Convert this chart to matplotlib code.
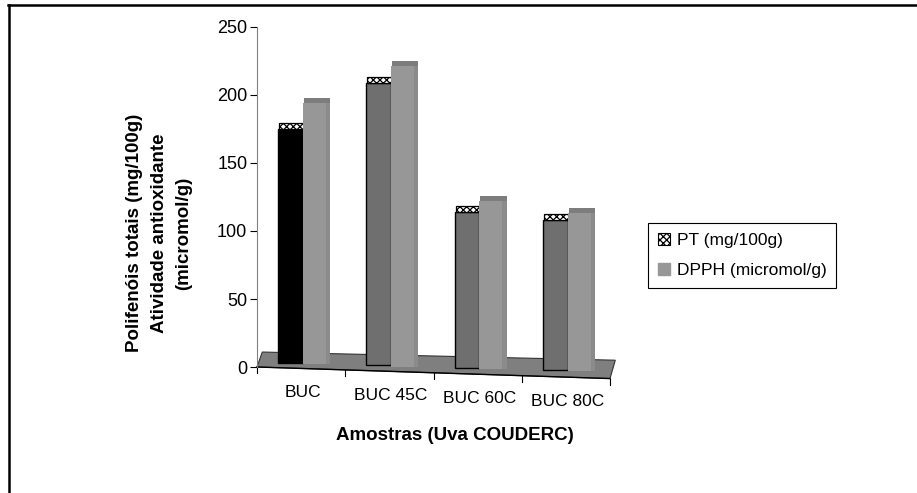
import matplotlib
matplotlib.use("Agg")
import matplotlib.pyplot as plt
from matplotlib.lines import Line2D
from matplotlib.patches import Patch, Polygon
import numpy as np

categories = ["BUC", "BUC 45C", "BUC 60C", "BUC 80C"]
pt_values = [175, 209, 114, 108]
dpph_values = [194, 221, 122, 113]
series_labels = ["PT (mg/100g)", "DPPH (micromol/g)"]
y_ticks = [0, 50, 100, 150, 200, 250]

plt.rcParams["font.family"] = ["Liberation Sans", "DejaVu Sans"]
plt.rcParams["hatch.linewidth"] = 0.9

W, H = 917, 493
fig = plt.figure(figsize=(W / 100, H / 100), dpi=100)
ax = fig.add_axes([257 / W, 126 / H, 353 / W, 340 / H])

n = len(categories)
x = np.arange(n)
x_lo, x_hi = -0.5, n - 0.5

# fake Excel 3D look: the floor and the category axis slope down to the right
front_drop = -8.5


def front_y(xv):
    return front_drop * (xv - x_lo) / n


def base_y(xv):
    return 3.5 - 1.65 * (xv - x_lo)


floor = Polygon([(x_lo, 0), (x_lo + 0.06, 11), (x_hi + 0.06, 5), (x_hi, front_drop)],
                closed=True, facecolor="#7f7f7f", edgecolor="#333333", lw=0.8,
                zorder=1, clip_on=False)
ax.add_patch(floor)

pt_colors = ["#000000"] + ["#6f6f6f"] * (n - 1)
pt_x = x - 0.12
pt_base = base_y(pt_x)
ax.bar(pt_x, np.array(pt_values) - pt_base, 0.28, bottom=pt_base, color=pt_colors,
       edgecolor="black", lw=1, zorder=3, clip_on=False)
ax.bar(pt_x + 0.01, 4.5, 0.28, bottom=pt_values, facecolor="white", edgecolor="black",
       hatch="xxxxx", lw=0.9, zorder=3)

dp_x = x + 0.15
dp_base = base_y(dp_x) - 0.5
ax.bar(dp_x, np.array(dpph_values) - dp_base, 0.26, bottom=dp_base, color="#979797",
       lw=0, zorder=4, clip_on=False)
ax.bar(dp_x + 0.155, np.array(dpph_values) - dp_base, 0.05, bottom=dp_base,
       color="#8b8b8b", lw=0, zorder=4, clip_on=False)
ax.bar(dp_x + 0.03, 4, 0.3, bottom=dpph_values, color="#7d7d7d", lw=0, zorder=4)

# value axis
ax.set_xlim(x_lo, x_hi)
ax.set_ylim(0, 250)
ax.set_yticks(y_ticks)
ax.tick_params(axis="y", labelsize=13, length=5, width=0.8, color="black", pad=2)
ax.set_xticks([])
for side in ["top", "right", "bottom"]:
    ax.spines[side].set_visible(False)
ax.spines["left"].set_color("#808080")
ax.patch.set_alpha(0)

# sloped category axis with ticks between groups
ax.plot([x_lo, x_hi], [0, front_drop], color="black", lw=1, clip_on=False, zorder=2)
for b in np.arange(x_lo, x_hi + 0.01, 1.0):
    y0 = front_y(b)
    ax.plot([b, b], [y0, y0 - 4.5], color="black", lw=0.8, clip_on=False)
for xi, cat in zip(x, categories):
    ax.text(xi + 0.02, front_y(xi) - 18, cat, ha="center", va="center", fontsize=12.5)

fig.text(455 / W, 1 - 435 / H, "Amostras (Uva COUDERC)", ha="center", va="center",
         fontsize=13.5, fontweight="bold")
fig.text(159 / W, 1 - 233 / H,
         "Polifenóis totais (mg/100g)\nAtividade antioxidante\n(micromol/g)",
         rotation=90, ha="center", va="center", multialignment="center",
         fontsize=13.5, fontweight="bold", linespacing=1.55)

handles = [Patch(facecolor="white", edgecolor="black", hatch="xxxxx", lw=0.8),
           Patch(facecolor="#979797", edgecolor="#979797")]
leg = ax.legend(handles, series_labels, loc="upper left",
                bbox_to_anchor=(648 / W, 1 - 223 / H), bbox_transform=fig.transFigure,
                borderaxespad=0, fancybox=False, edgecolor="black", framealpha=1,
                fontsize=12.5, handlelength=0.7, handleheight=0.7, handletextpad=0.4,
                labelspacing=0.9, borderpad=0.55)
leg.get_frame().set_linewidth(0.8)

# outer frame (top and left only, as in the source image)
fig.add_artist(Line2D([8 / W, 1], [1 - 5 / H] * 2, color="black", lw=1.8))
fig.add_artist(Line2D([9 / W] * 2, [0, 1 - 5 / H], color="black", lw=1.8))

fig.savefig("out.png", dpi=100)
plt.close(fig)
